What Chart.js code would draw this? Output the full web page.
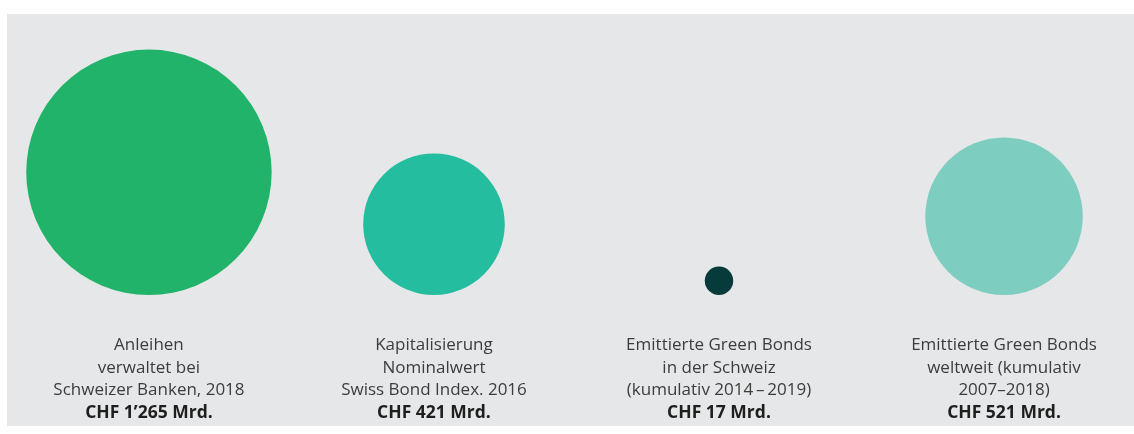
<!DOCTYPE html>
<html>
<head>
<meta charset="utf-8">
<script src="https://cdn.jsdelivr.net/npm/chart.js@4"></script>
<style>
  html, body { margin: 0; padding: 0; background: #ffffff; }
  #wrap { position: absolute; left: 7px; top: 14px; width: 1127px; height: 412px; background: #e6e7e8; }
</style>
</head>
<body>
<div id="wrap"><canvas id="myChart" width="1127" height="412"></canvas></div>
<script>
// Werte in CHF Mrd.
const categories = [
    ['Anleihen', 'verwaltet bei', 'Schweizer Banken, 2018'],
    ['Kapitalisierung', 'Nominalwert', 'Swiss Bond Index. 2016'],
    ['Emittierte Green Bonds', 'in der Schweiz', '(kumulativ 2014\u2009\u2013\u20092019)'],
    ['Emittierte Green Bonds', 'weltweit (kumulativ', '2007\u20132018)']
];
const values = [1265, 421, 17, 521];
const valueLabels = ['CHF 1\u2019265 Mrd.', 'CHF 421 Mrd.', 'CHF 17 Mrd.', 'CHF 521 Mrd.'];
const colors = ['#22b36b', '#25bd9f', '#073a3b', '#7dcdc0'];

const scaleK = 3.45;   // Radius = k * Wurzel(Wert), Fläche proportional
const baseLine = 131;  // Unterkante aller Kreise

const points = values.map((v, i) => {
    const r = scaleK * Math.sqrt(v);
    return { x: i, y: baseLine + r, r: r };
});

// Beschriftung unter den Kreisen
const labelPlugin = {
    id: 'labels',
    afterDatasetsDraw(chart) {
        const ctx = chart.ctx;
        const xs = chart.scales.x;
        const ys = chart.scales.y;
        ctx.save();
        ctx.textAlign = 'center';
        ctx.textBaseline = 'alphabetic';
        categories.forEach((lines, i) => {
            const x = xs.getPixelForValue(i);
            let y = ys.getPixelForValue(baseLine) + 55;
            ctx.font = '17px "Open Sans"';
            ctx.fillStyle = '#3c3c3c';
            lines.forEach(line => {
                ctx.fillText(line, x, y);
                y += 22.7;
            });
            ctx.font = 'bold 17.5px "Open Sans"';
            ctx.fillStyle = '#1e1e1e';
            ctx.fillText(valueLabels[i], x, y);
        });
        ctx.restore();
    }
};

const ctx = document.getElementById('myChart').getContext('2d');
new Chart(ctx, {
    type: 'bubble',
    data: {
        datasets: [{
            data: points,
            backgroundColor: colors,
            borderWidth: 0,
            hoverBorderWidth: 0,
            clip: false
        }]
    },
    options: {
        responsive: false,
        animation: false,
        events: [],
        layout: { padding: 0, autoPadding: false },
        scales: {
            x: { type: 'linear', min: -0.498, max: 3.456, display: false },
            y: { type: 'linear', min: 0, max: 412, display: false }
        },
        plugins: {
            legend: { display: false },
            tooltip: { enabled: false }
        }
    },
    plugins: [labelPlugin]
});
</script>
</body>
</html>
